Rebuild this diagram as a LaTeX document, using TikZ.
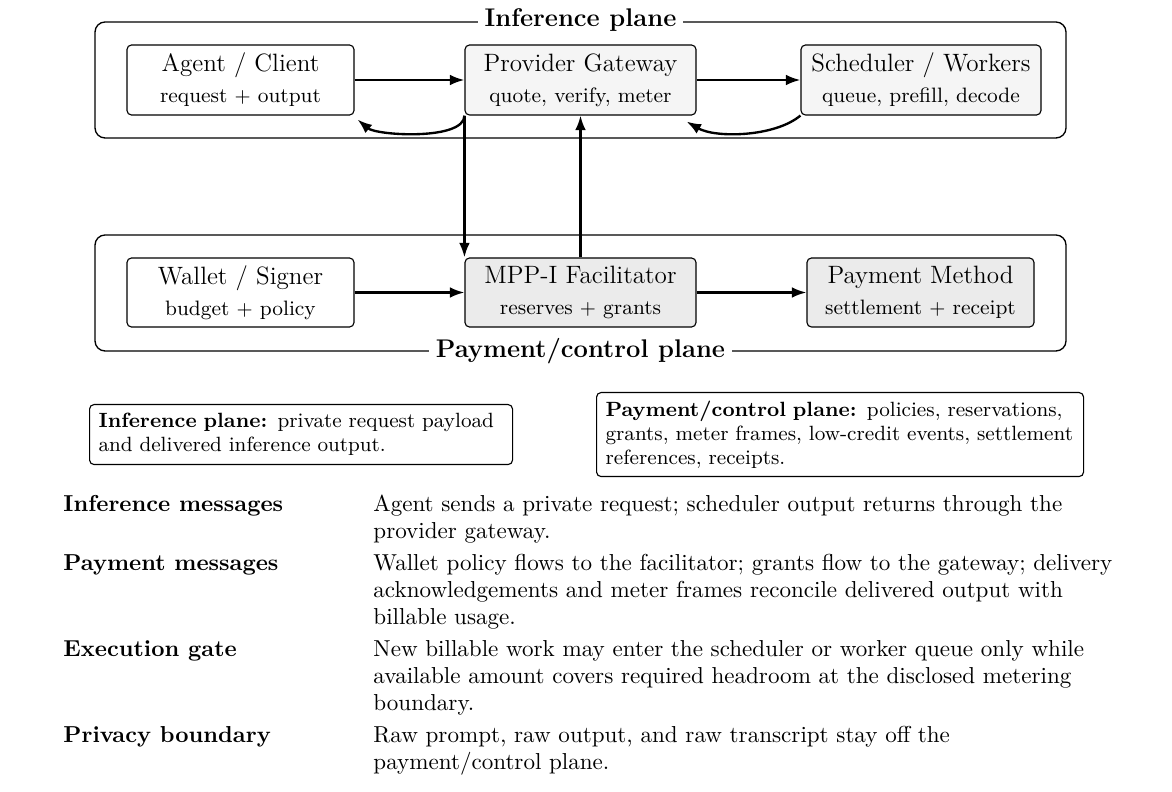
\documentclass[tikz,border=0pt]{standalone}
\usetikzlibrary{arrows.meta}
\newdimen\pxu \pxu=0.4464pt
\newcommand\subl[1]{{\fontsize{9.3}{11}\selectfont #1}}
\newcommand\nohyph{\hyphenpenalty=10000\relax}
\tikzset{
 frame/.style={draw, line width=0.6pt, rounded corners=4.5pt, inner sep=0pt},
 ptitle/.style={fill=white, inner xsep=3pt, inner ysep=1pt, font=\fontsize{11.4}{13.5}\selectfont\bfseries},
 box/.style={draw, line width=0.5pt, rounded corners=2pt, align=center, inner sep=0pt, minimum height=70\pxu, font=\fontsize{11.2}{13.8}\selectfont},
 lite/.style={box, fill=gray!8},
 mid/.style={box, fill=gray!16},
 arr/.style={-{Latex[length=6.5pt,width=4.8pt]}, line width=1.05pt},
 legend/.style={draw, line width=0.5pt, rounded corners=2pt, align=left, inner xsep=4pt, inner ysep=0pt, font=\fontsize{9.2}{10.6}\selectfont\nohyph, anchor=north west},
 rowhead/.style={anchor=base west, inner sep=0pt, font=\fontsize{10.3}{11.83}\selectfont\bfseries},
 rowtext/.style={anchor=base west, inner sep=0pt, text width=370pt, align=left, font=\fontsize{10.3}{11.83}\selectfont},
}
\begin{document}
\begin{tikzpicture}[x=0.4464pt, y=0.4464pt]
\useasboundingbox (0,0) rectangle (1172,-792);
% frames
\node[frame, minimum width=971\pxu, minimum height=116\pxu] (infframe) at (580.5,-80) {};
\node[ptitle] (inftitle) at (580.5,-20) {Inference plane};
\node[frame, minimum width=971\pxu, minimum height=116\pxu] (payframe) at (580.5,-293) {};
\node[ptitle] (paytitle) at (580.5,-351) {Payment/control plane};
% inference plane
\node[box, minimum width=227\pxu] (agent) at (240.5,-80) {Agent / Client\\\subl{request $+$ output}};
\node[lite, minimum width=231\pxu] (gw) at (580.5,-80) {Provider Gateway\\\subl{quote, verify, meter}};
\node[lite, minimum width=240\pxu] (sched) at (921,-80) {Scheduler / Workers\\\subl{queue, prefill, decode}};
% payment plane
\node[box, minimum width=227\pxu, minimum height=69\pxu] (wallet) at (240.5,-292.5) {Wallet / Signer\\\subl{budget $+$ policy}};
\node[mid, minimum width=231\pxu, minimum height=69\pxu] (mpp) at (580.5,-292.5) {MPP-I Facilitator\\\subl{reserves $+$ grants}};
\node[mid, minimum width=227\pxu, minimum height=69\pxu] (pm) at (920.5,-292.5) {Payment Method\\\subl{settlement $+$ receipt}};
% arrows
\draw[arr] (agent.east) -- (gw.west);
\draw[arr] (gw.east) -- (sched.west);
\draw[arr] (gw.south west) to[out=-90,in=-40,looseness=0.6] ([shift={(3,-4)}]agent.south east);
\draw[arr] (sched.south west) to[out=-140,in=-30,looseness=0.75] ([shift={(-10,-6)}]gw.south east);
\draw[arr] (gw.south west) -- (mpp.north west);
\draw[arr] (mpp.north) -- (gw.south);
\draw[arr] (wallet.east) -- (mpp.west);
\draw[arr] (mpp.east) -- (pm.west);
% legends
\node[legend, minimum width=423\pxu, minimum height=60\pxu, text width=405\pxu] (leg1) at (89,-404) {\textbf{Inference plane:} private request payload\\and delivered inference output.};
\node[legend, minimum width=487\pxu, minimum height=84\pxu, text width=469\pxu] (leg2) at (596,-392) {\textbf{Payment/control plane:} policies, reservations,\\grants, meter frames, low-credit events, settlement\\references, receipts.};
% table
\node[rowhead] (h1) at (63,-512) {Inference messages};
\node[rowtext] (t1) at (373,-512) {Agent sends a private request; scheduler output returns through the\\provider gateway.};
\node[rowhead] (h2) at (63,-571) {Payment messages};
\node[rowtext] (t2) at (373,-571) {Wallet policy flows to the facilitator; grants flow to the gateway; delivery\\acknowledgements and meter frames reconcile delivered output with\\billable usage.};
\node[rowhead] (h3) at (63,-657) {Execution gate};
\node[rowtext] (t3) at (373,-657) {New billable work may enter the scheduler or worker queue only while\\available amount covers required headroom at the disclosed metering\\boundary.};
\node[rowhead] (h4) at (63,-743) {Privacy boundary};
\node[rowtext] (t4) at (373,-743) {Raw prompt, raw output, and raw transcript stay off the\\payment/control plane.};
\end{tikzpicture}
\end{document}
